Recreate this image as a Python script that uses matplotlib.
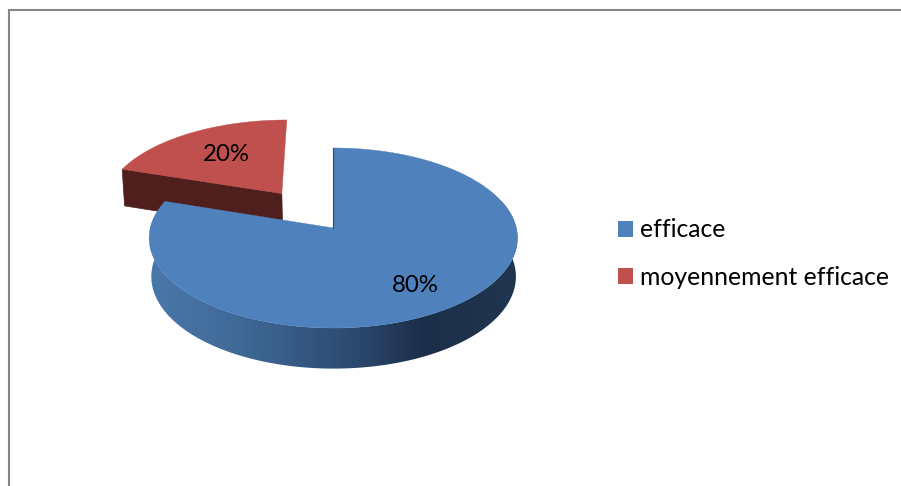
import numpy as np
import matplotlib
matplotlib.use("Agg")
import matplotlib.pyplot as plt
from matplotlib.patches import Polygon, Patch
from matplotlib.colors import LinearSegmentedColormap

# data
categories = ["efficace", "moyennement efficace"]
values = [80, 20]
colors = ["#4F81BD", "#C0504D"]
explode = [0.0, 0.5]
label_radius = [0.72, 0.63]
label_nudge = [(-1, 2), (3, 0)]

# layout (pixels)
W, H = 901, 486
CX, CY, RX, RY, K = 333.3, 228.0, 183.0, 88.9, 0.111
FONT = "Lato"
FS_LABEL = 17.3
FS_LEGEND = 17.8

plt.rcParams["font.family"] = [FONT, "DejaVu Sans"]
fig = plt.figure(figsize=(W / 100, H / 100), dpi=100, facecolor="white")
ax = fig.add_axes([0, 0, 1, 1])
ax.set_axis_off()


def project(u, v):
    d = 1 + K * v
    return CX + RX * u / d, CY - RY * v / d


def bottom(x, y, v):
    return CX + 0.3 + (x - CX) * 0.99, y + 38.3 - 2.3 * v


total = sum(values)
# slice angles, clockwise from twelve o'clock
starts = np.cumsum([0] + values[:-1]) / total * 2 * np.pi
sweeps = np.array(values) / total * 2 * np.pi


def rim(i, n=200):
    t = np.linspace(starts[i], starts[i] + sweeps[i], n)
    mid = starts[i] + sweeps[i] / 2
    ou, ov = explode[i] * np.sin(mid), explode[i] * np.cos(mid)
    return t, ou + np.sin(t), ov + np.cos(t), ou, ov


# red slice: front wall then top
t, u, v, ou, ov = rim(1)
x, y = project(u, v)
ax_, ay_ = project(ou, ov)
bx0, by0 = bottom(x[0], y[0], v[0])
bxa, bya = bottom(ax_, ay_, ov)
ax.add_patch(Polygon([(x[0], y[0]), (ax_, ay_), (bxa, bya), (bx0, by0)],
                     closed=True, fc="#4F1F1D", ec="#4F1F1D", lw=0.5, zorder=2))
ax.add_patch(Polygon(np.r_[[[ax_, ay_]], np.c_[x, y]], closed=True,
                     fc=colors[1], ec=colors[1], lw=0.3, zorder=3))

# blue slice: curved wall with a horizontal shade, then top
t, u, v, ou, ov = rim(0, 400)
x, y = project(u, v)
bx, by = bottom(x, y, v)
front = v < 0.32
shade = LinearSegmentedColormap.from_list(
    "wall", [(0.0, "#4A78AA"), (0.25, "#3F6896"), (0.55, "#2C4A70"),
             (0.74, "#1C2F4A"), (1.0, "#20354F")])
# keep only the part of the rim that faces the viewer
idx = np.where(front)[0]
right = idx[idx < 200]
left = idx[idx >= 200]
wall = np.r_[np.c_[x[right], y[right]], np.c_[x[left], y[left]],
             np.c_[bx[left], by[left]][::-1], np.c_[bx[right], by[right]][::-1]]
clip = Polygon(wall, closed=True, fc="none", ec="none", transform=ax.transData)
ax.add_patch(clip)
im = ax.imshow(np.linspace(0, 1, 256)[None, :], cmap=shade, aspect="auto",
               extent=(150, 518, 380, 200), zorder=4)
im.set_clip_path(clip)
ax.add_patch(Polygon(np.r_[[[CX, CY]], np.c_[x, y]], closed=True,
                     fc=colors[0], ec=colors[0], lw=0.3, zorder=5))
ax.plot([CX, CX], [CY, y[0]], color="#2A4566", lw=0.8, zorder=6)

# percentage labels
for i, val in enumerate(values):
    mid = starts[i] + sweeps[i] / 2
    r = label_radius[i] + explode[i]
    lx, ly = project(r * np.sin(mid), r * np.cos(mid))
    ax.text(lx + label_nudge[i][0], ly + label_nudge[i][1], f"{val}%",
            ha="center", va="center", fontsize=FS_LABEL, color="black", zorder=7)

# outer frame
ax.plot([8, W], [10.5, 10.5], color="#868686", lw=1.5, zorder=1, solid_capstyle="butt")
ax.plot([9, 9], [10, H], color="#868686", lw=1.5, zorder=1, solid_capstyle="butt")

handles = [Patch(fc=c, ec="none") for c in colors]
leg = ax.legend(handles, categories, loc="center left",
                bbox_to_anchor=(618.0 / W, 1 - 253.5 / H), frameon=False,
                fontsize=FS_LEGEND, handlelength=0.61, handleheight=0.61,
                handletextpad=0.3, labelspacing=0.98, borderpad=0, borderaxespad=0)

ax.set_xlim(0, W)
ax.set_ylim(H, 0)
fig.savefig("out.png", dpi=100, facecolor="white")
